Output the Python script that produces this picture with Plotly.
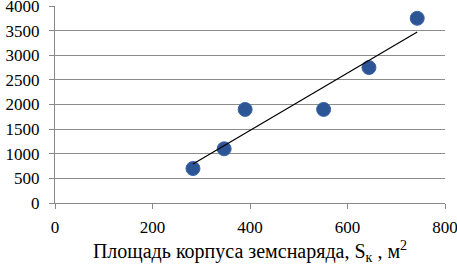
import numpy as np
import plotly.graph_objects as go

x_area = [283, 347, 390, 551, 644, 743]
y_vals = [700, 1100, 1900, 1900, 2750, 3750]
x_ticks = [0, 200, 400, 600, 800]
y_ticks = [0, 500, 1000, 1500, 2000, 2500, 3000, 3500, 4000]

coef = np.polyfit(x_area, y_vals, 1)
tx = [min(x_area), max(x_area)]
ty = list(np.polyval(coef, tx))

fig = go.Figure()
fig.add_trace(go.Scatter(x=x_area, y=y_vals, mode="markers",
                         marker=dict(size=14, color="#2C5596", line=dict(color="#3F66A6", width=1)),
                         showlegend=False, cliponaxis=False))
fig.add_trace(go.Scatter(x=tx, y=ty, mode="lines",
                         line=dict(color="black", width=1.2), showlegend=False))

fam = "'Times New Roman', 'Liberation Serif', serif"
fig.update_layout(
    width=457, height=271,
    margin=dict(l=55, r=12, t=6, b=68),
    paper_bgcolor="white", plot_bgcolor="white",
    font=dict(family=fam, size=17, color="#000"),
    xaxis=dict(range=[0, 800], tickvals=x_ticks, showgrid=False, zeroline=False,
               showline=True, linecolor="#888", linewidth=1, automargin=False,
               ticks="outside", ticklen=5, tickcolor="#888",
               tickfont=dict(family=fam, size=17, color="#000"),
               ticklabelstandoff=4, ticklabeloverflow="allow",
               title=dict(text="Площадь корпуса земснаряда, S<sub>к</sub> , м<sup>2</sup>",
                          font=dict(family=fam, size=20, color="#000"), standoff=7)),
    yaxis=dict(range=[0, 4000], tickvals=y_ticks, showgrid=True, gridcolor="#8c8c8c", gridwidth=1,
               zeroline=False, showline=True, linecolor="#888", linewidth=1, automargin=False,
               ticks="outside", ticklen=5, tickcolor="#888",
               tickfont=dict(family=fam, size=17, color="#000"),
               ticklabelstandoff=6, ticklabeloverflow="allow"),
)
fig.write_html("out.html", config={"displayModeBar": False},
               post_script="document.body.style.margin='0';document.body.style.padding='0';")
